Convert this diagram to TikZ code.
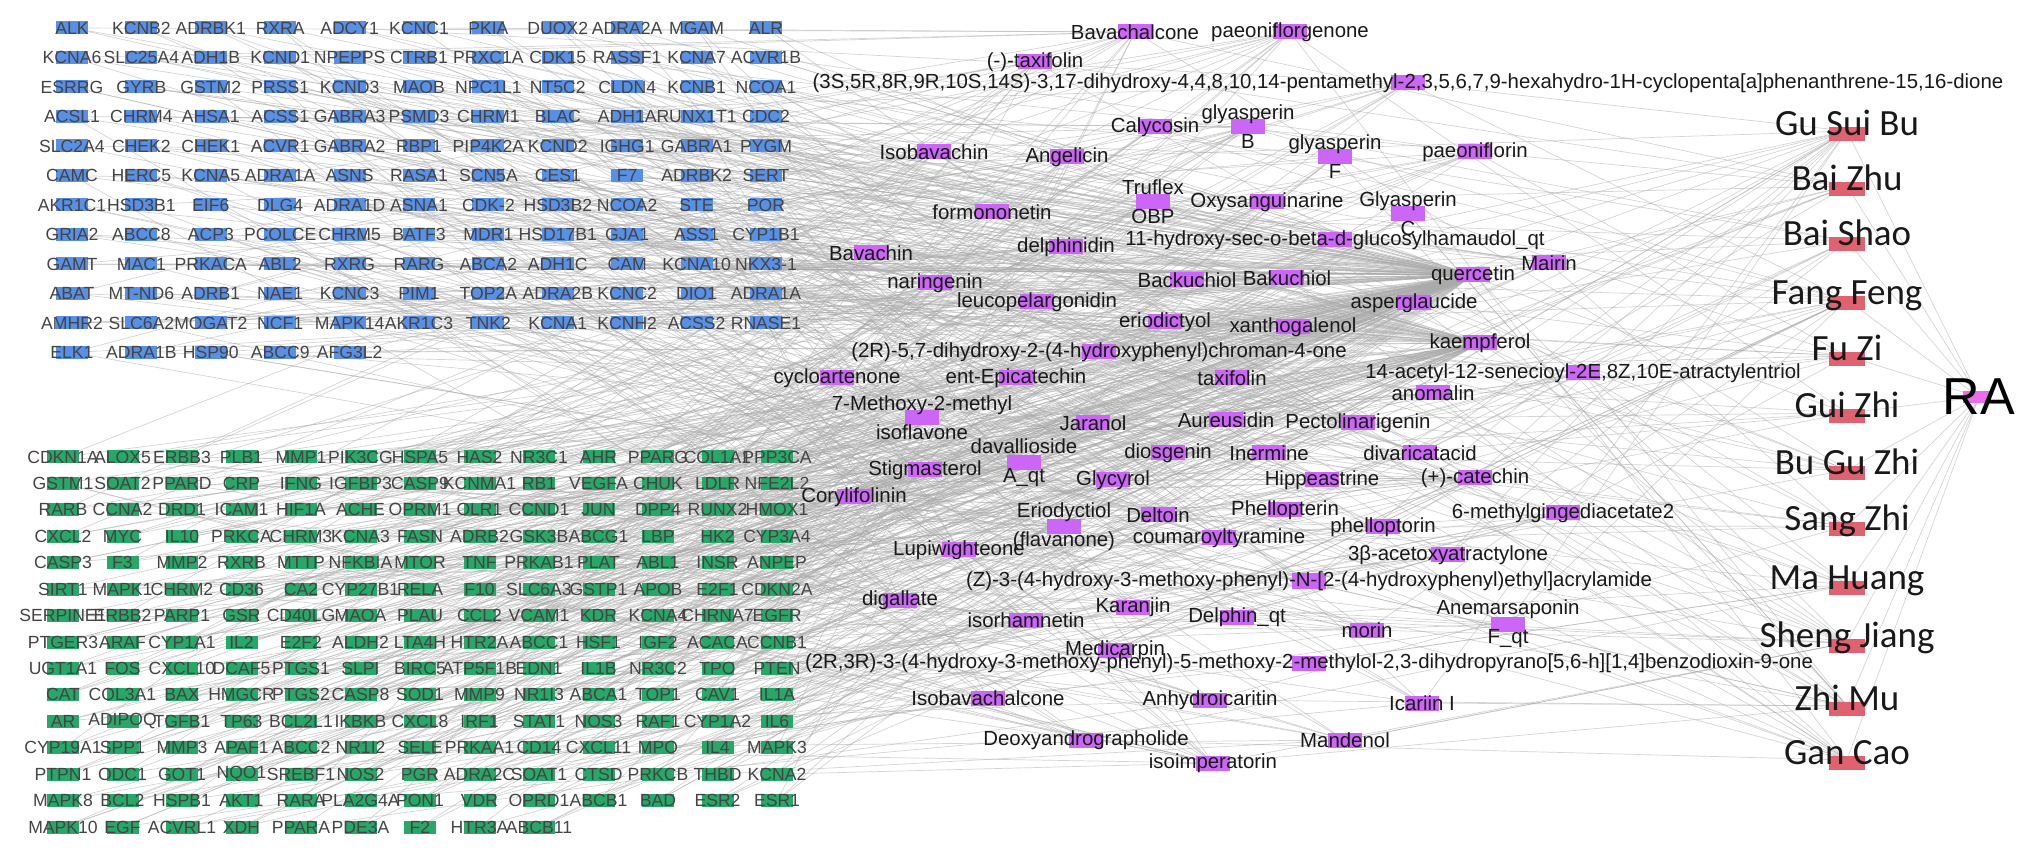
\documentclass[tikz,border=0pt]{standalone}
\usepackage{fontspec}
\setmainfont{Liberation Sans}
\newfontfamily\herbfont{Carlito}
\usetikzlibrary{calc}

\definecolor{genblue}{RGB}{88,144,230}
\definecolor{gengreen}{RGB}{40,168,104}
\definecolor{cpdpurple}{RGB}{203,102,246}
\definecolor{herbred}{RGB}{224,98,112}
\definecolor{rapink}{RGB}{232,110,236}
\definecolor{genetext}{RGB}{68,68,68}
\definecolor{cpdtext}{RGB}{25,25,25}
\definecolor{linkgray}{RGB}{170,170,170}

\pgfdeclarelayer{links}
\pgfsetlayers{links,main}

\tikzset{
  gene/.style={font=\fontsize{8.8}{10}\selectfont, text=genetext, inner sep=0pt},
  cpd/.style={font=\fontsize{10.2}{14.5}\selectfont, text=cpdtext, inner sep=0pt, align=center},
  herb/.style={font=\herbfont\fontsize{18.5}{20}\selectfont, text=black!90, inner sep=0pt, text height=0.68em, text depth=0.2em},
  ranode/.style={font=\fontsize{26}{28}\selectfont, inner sep=0pt},
  link/.style={draw=linkgray, line width=0.35pt, opacity=0.5},
}

% compound: name, x, y, label
\newcommand\cpdnode[4]{%
  \fill[cpdpurple] (#2-17,#3-7.5) rectangle (#2+17,#3+7.5);
  \node[cpd] (#1) at (#2,#3) {#4};}

\begin{document}
\begin{tikzpicture}[x=0.5pt, y=-0.5pt]
	\useasboundingbox (0,0) rectangle (2032,854);
	\pgfmathsetseed{11}

	% compounds
	\cpdnode{c1}{1135}{32}{Bavachalcone}
	\cpdnode{c2}{1290}{32}{paeoniflorgenone}
	\cpdnode{c3}{1035}{62}{(-)-taxifolin}
	\cpdnode{c4}{1408}{83}{(3S,5R,8R,9R,10S,14S)-3,17-dihydroxy-4,4,8,10,14-pentamethyl-2,3,5,6,7,9-hexahydro-1H-cyclopenta[a]phenanthrene-15,16-dione}
	\cpdnode{c5}{1155}{127}{Calycosin}
	\cpdnode{c6}{1248}{127}{glyasperin\\B}
	\cpdnode{c7}{934}{152}{Isobavachin}
	\cpdnode{c8}{1067}{157}{Angelicin}
	\cpdnode{c9}{1335}{157}{glyasperin\\F}
	\cpdnode{c10}{1475}{152}{paeoniflorin}
	\cpdnode{c11}{1153}{202}{Truflex\\OBP}
	\cpdnode{c12}{1267}{202}{Oxysanguinarine}
	\cpdnode{c13}{1408}{214}{Glyasperin\\C}
	\cpdnode{c14}{992}{212}{formononetin}
	\cpdnode{c15}{1066}{247}{delphinidin}
	\cpdnode{c16}{1335}{240}{11-hydroxy-sec-o-beta-d-glucosylhamaudol\_qt}
	\cpdnode{c17}{871}{253}{Bavachin}
	\cpdnode{c18}{935}{283}{naringenin}
	\cpdnode{c19}{1187}{280}{Backuchiol}
	\cpdnode{c20}{1287}{278}{Bakuchiol}
	\cpdnode{c21}{1037}{302}{leucopelargonidin}
	\cpdnode{c22}{1165}{322}{eriodictyol}
	\cpdnode{c23}{1293}{327}{xanthogalenol}
	\cpdnode{c24}{1099}{352}{(2R)-5,7-dihydroxy-2-(4-hydroxyphenyl)chroman-4-one}
	\cpdnode{c25}{837}{378}{cycloartenone}
	\cpdnode{c26}{1016}{378}{ent-Epicatechin}
	\cpdnode{c27}{1232}{378}{taxifolin}
	\cpdnode{c28}{1473}{275}{quercetin}
	\cpdnode{c29}{1549}{263}{Mairin}
	\cpdnode{c30}{1414}{303}{asperglaucide}
	\cpdnode{c31}{1480}{343}{kaempferol}
	\cpdnode{c32}{1583}{373}{14-acetyl-12-senecioyl-2E,8Z,10E-atractylentriol}
	\cpdnode{c33}{1433}{393}{anomalin}
	\cpdnode{c34}{922}{418}{7-Methoxy-2-methyl\\isoflavone}
	\cpdnode{c35}{1093}{423}{Jaranol}
	\cpdnode{c36}{1226}{420}{Aureusidin}
	\cpdnode{c37}{1358}{423}{Pectolinarigenin}
	\cpdnode{c38}{1024}{463}{davallioside\\A\_qt}
	\cpdnode{c39}{1168}{453}{diosgenin}
	\cpdnode{c40}{1269}{453}{Inermine}
	\cpdnode{c41}{1420}{453}{divaricatacid}
	\cpdnode{c42}{925}{470}{Stigmasterol}
	\cpdnode{c43}{1113}{480}{Glycyrol}
	\cpdnode{c44}{1322}{480}{Hippeastrine}
	\cpdnode{c45}{1475}{478}{(+)-catechin}
	\cpdnode{c46}{854}{497}{Corylifolinin}
	\cpdnode{c47}{1064}{527}{Eriodyctiol\\(flavanone)}
	\cpdnode{c48}{1158}{515}{Deltoin}
	\cpdnode{c49}{1285}{510}{Phellopterin}
	\cpdnode{c50}{1383}{527}{phelloptorin}
	\cpdnode{c51}{1563}{513}{6-methylgingediacetate2}
	\cpdnode{c52}{1219}{538}{coumaroyltyramine}
	\cpdnode{c53}{959}{550}{Lupiwighteone}
	\cpdnode{c54}{1448}{555}{3β-acetoxyatractylone}
	\cpdnode{c55}{1309}{581}{(Z)-3-(4-hydroxy-3-methoxy-phenyl)-N-[2-(4-hydroxyphenyl)ethyl]acrylamide}
	\cpdnode{c56}{1508}{624}{Anemarsaponin\\F\_qt}
	\cpdnode{c57}{900}{600}{digallate}
	\cpdnode{c58}{1133}{607}{Karanjin}
	\cpdnode{c59}{1237}{617}{Delphin\_qt}
	\cpdnode{c60}{1026}{620}{isorhamnetin}
	\cpdnode{c61}{1367}{630}{morin}
	\cpdnode{c62}{1115}{650}{Medicarpin}
	\cpdnode{c63}{1309}{663}{(2R,3R)-3-(4-hydroxy-3-methoxy-phenyl)-5-methoxy-2-methylol-2,3-dihydropyrano[5,6-h][1,4]benzodioxin-9-one}
	\cpdnode{c64}{988}{698}{Isobavachalcone}
	\cpdnode{c65}{1210}{700}{Anhydroicaritin}
	\cpdnode{c66}{1422}{703}{Icariin I}
	\cpdnode{c67}{1086}{740}{Deoxyandrographolide}
	\cpdnode{c68}{1345}{740}{Mandenol}
	\cpdnode{c69}{1213}{763}{isoimperatorin}

	% herbs
	\foreach \hname/\hy [count=\k] in {Gu Sui Bu/128, Bai Zhu/183, Bai Shao/238, Fang Feng/297, Fu Zi/353, Gui Zhi/410, Bu Gu Zhi/467, Sang Zhi/523, Ma Huang/582, Sheng Jiang/640, Zhi Mu/703, Gan Cao/757}{
		\fill[herbred] (1847-18,\hy-1) rectangle (1847+18,\hy+13);
		\node[herb] (h\k) at (1847,\hy+3) {\hname};
	}

	% disease
	\fill[rapink] (1977-14,397-6) rectangle (1977+14,397+6);
	\node[ranode] (ra) at (1979,397) {RA};

	% targets, blue block
	\foreach \genrow [count=\rw] in {
		{ALK,KCNB2,ADRBK1,RXRA,ADCY1,KCNC1,PKIA,DUOX2,ADRA2A,MGAM,ALR},
		{KCNA6,SLC25A4,ADH1B,KCND1,NPEPPS,CTRB1,PRXC1A,CDK15,RASSF1,KCNA7,ACVR1B},
		{ESRRG,GYRB,GSTM2,PRSS1,KCND3,MAOB,NPC1L1,NT5C2,CLDN4,KCNB1,NCOA1},
		{ACSL1,CHRM4,AHSA1,ACSS1,GABRA3,PSMD3,CHRM1,BLAC,ADH1A,RUNX1T1,CDC2},
		{SLC2A4,CHEK2,CHEK1,ACVR1,GABRA2,RBP1,PIP4K2A,KCND2,IGHG1,GABRA1,PYGM},
		{CAMC,HERC5,KCNA5,ADRA1A,ASNS,RASA1,SCN5A,CES1,F7,ADRBK2,SERT},
		{AKR1C1,HSD3B1,EIF6,DLG4,ADRA1D,ASNA1,CDK-2,HSD3B2,NCOA2,STE,POR},
		{GRIA2,ABCC8,ACP3,PCOLCE,CHRM5,BATF3,MDR1,HSD17B1,GJA1,ASS1,CYP1B1},
		{GAMT,MAC1,PRKACA,ABL2,RXRG,RARG,ABCA2,ADH1C,CAM,KCNA10,NKX3-1},
		{ABAT,MT-ND6,ADRB1,NAE1,KCNC3,PIM1,TOP2A,ADRA2B,KCNC2,DIO1,ADRA1A},
		{AMHR2,SLC6A2,MOGAT2,NCF1,MAPK14,AKR1C3,TNK2,KCNA1,KCNH2,ACSS2,RNASE1},
		{ELK1,ADRA1B,HSP90,ABCC9,AFG3L2}}{
		\foreach \gn [count=\cl] in \genrow {
			\pgfmathsetmacro\gx{72+69.4*(\cl-1)}
			\pgfmathsetmacro\gy{28+29.5*(\rw-1)}
			\fill[genblue] (\gx-16,\gy-6.5) rectangle (\gx+16,\gy+6.5);
			\node[gene] (b-\rw-\cl) at (\gx,\gy) {\gn};
		}
	}

	% targets, green block
	\foreach \genrow [count=\rw] in {
		{CDKN1A,ALOX5,ERBB3,PLB1,MMP1,PIK3CG,HSPA5,HAS2,NR3C1,AHR,PPARG,COL1A1,PPP3CA},
		{GSTM1,SOAT2,PPARD,CRP,IFNG,IGFBP3,CASP9,KCNMA1,RB1,VEGFA,CHUK,LDLR,NFE2L2},
		{RARB,CCNA2,DRD1,ICAM1,HIF1A,ACHE,OPRM1,OLR1,CCND1,JUN,DPP4,RUNX2,HMOX1},
		{CXCL2,MYC,IL10,PRKCA,CHRM3,KCNA3,FASN,ADRB2,GSK3B,ABCG1,LBP,HK2,CYP3A4},
		{CASP3,F3,MMP2,RXRB,MTTP,NFKBIA,MTOR,TNF,PRKAB1,PLAT,ABL1,INSR,ANPEP},
		{SIRT1,MAPK1,CHRM2,CD36,CA2,CYP27B1,RELA,F10,SLC6A3,GSTP1,APOB,E2F1,CDKN2A},
		{SERPINE1,ERBB2,PARP1,GSR,CD40LG,MAOA,PLAU,CCL2,VCAM1,KDR,KCNA4,CHRNA7,EGFR},
		{PTGER3,ARAF,CYP1A1,IL2,E2F2,ALDH2,LTA4H,HTR2A,ABCC1,HSF1,IGF2,ACACA,CCNB1},
		{UGT1A1,FOS,CXCL10,DCAF5,PTGS1,SLPI,BIRC5,ATP5F1B,EDN1,IL1B,NR3C2,TPO,PTEN},
		{CAT,COL3A1,BAX,HMGCR,PTGS2,CASP8,SOD1,MMP9,NR1I3,ABCA1,TOP1,CAV1,IL1A},
		{AR,ADIPOQ,TGFB1,TP63,BCL2L1,IKBKB,CXCL8,IRF1,STAT1,NOS3,RAF1,CYP1A2,IL6},
		{CYP19A1,SPP1,MMP3,APAF1,ABCC2,NR1I2,SELE,PRKAA1,CD14,CXCL11,MPO,IL4,MAPK3},
		{PTPN1,ODC1,GOT1,NQO1,SREBF1,NOS2,PGR,ADRA2C,SOAT1,CTSD,PRKCB,THBD,KCNA2},
		{MAPK8,BCL2,HSPB1,AKT1,RARA,PLA2G4A,PON1,VDR,OPRD1,ABCB1,BAD,ESR2,ESR1},
		{MAPK10,EGF,ACVRL1,XDH,PPARA,PDE3A,F2,HTR3A,ABCB11}}{
		\foreach \gn [count=\cl] in \genrow {
			\pgfmathsetmacro\gx{63+59.5*(\cl-1)}
			\pgfmathsetmacro\gy{457+26.43*(\rw-1)}
			\fill[gengreen] (\gx-16,\gy-6.5) rectangle (\gx+16,\gy+6.5);
			\node[gene] (g-\rw-\cl) at (\gx,\gy) {\gn};
		}
	}

	% all links in one go, behind the nodes
	\begin{pgfonlayer}{links}
		\fill[white] (0,0) rectangle (2032,854);
		% target - compound
		\foreach \blk/\nr/\nc/\nl in {b/12/11/5, g/15/13/9}{
			\foreach \rw in {1,...,\nr}{
				\pgfmathtruncatemacro\ncol{\rw<\nr ? \nc : \nl}
				\foreach \cl in {1,...,\ncol}{
					\pgfmathtruncatemacro\ta{random(1,69)}
					\pgfmathtruncatemacro\tb{random(1,69)}
					\pgfmathtruncatemacro\pq{random(1,100)}
					\draw[link] (\blk-\rw-\cl.center) -- (c\ta.center);
					\draw[link] (\blk-\rw-\cl.center) -- (c\tb.center);
					\ifnum\pq<55 \draw[link] (\blk-\rw-\cl.center) -- (c28.center); \fi
					\ifnum\pq>70 \draw[link] (\blk-\rw-\cl.center) -- (c31.center); \fi
				}
			}
		}
		% compound - herb
		\foreach \k in {1,...,69}{
			\pgfmathtruncatemacro\ha{random(1,12)}
			\pgfmathtruncatemacro\hb{random(1,12)}
			\draw[link] (c\k.center) -- (h\ha.center);
			\draw[link] (c\k.center) -- (h\hb.center);
		}
		% herb - disease
		\foreach \k in {1,...,12}
			\draw[link] (h\k.center) -- (ra.center);
	\end{pgfonlayer}
\end{tikzpicture}
\end{document}
